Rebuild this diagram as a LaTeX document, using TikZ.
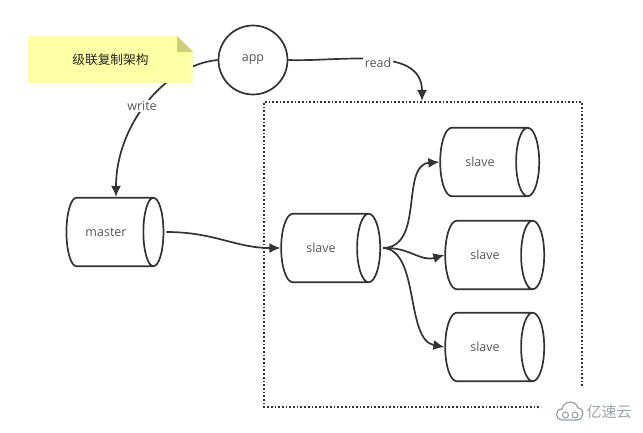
\documentclass[tikz,border=0pt]{standalone}
\usepackage{fontspec}
\setmainfont{Open Sans}
\newfontfamily\cjk{Noto Sans CJK SC}
\usetikzlibrary{arrows.meta,shapes.geometric}
\definecolor{linegray}{HTML}{333333}
\definecolor{textgray}{HTML}{555555}
\definecolor{markgray}{HTML}{9AA3AD}
\definecolor{noteyellow}{HTML}{FFFFA6}
\definecolor{notefold}{HTML}{CFCF78}
\newcommand{\dblabel}[1]{#1\hspace*{7pt}}
\tikzset{
    dbnode/.style={cylinder, draw=linegray, line width=1.7pt, aspect=2.4, minimum width=68.5pt, minimum height=99pt, text=textgray, font=\fontsize{12.5pt}{14pt}\selectfont, inner sep=0pt},
    appnode/.style={circle, draw=linegray, line width=1.7pt, minimum size=69pt, text=textgray, font=\fontsize{12.5pt}{14pt}\selectfont, inner sep=0pt},
    link/.style={draw=linegray, line width=1.7pt, -{Latex[length=11pt,width=10pt]}},
    linklabel/.style={fill=white, text=textgray, font=\fontsize{12.5pt}{14pt}\selectfont, inner sep=1.5pt}
}
\begin{document}
\begin{tikzpicture}[x=1pt,y=-1pt]
    \useasboundingbox (0,0) rectangle (643,433);
    \coordinate (boxa) at (582,386);
    \coordinate (boxb) at (582,102);
    \coordinate (boxc) at (264,102);
    \coordinate (boxd) at (264,407);
    \coordinate (boxe) at (541,407);
    \coordinate (readend) at (422,101);
    \draw[linegray, line width=1.7pt, dotted] (boxa) -- (boxb) -- (boxc) -- (boxd) -- (boxe);
    \node[appnode] (app) at (253,60) {app};
    \node[dbnode, minimum height=97pt] (master) at (109.5,232) {\dblabel{master}};
    \node[dbnode] (mid) at (324.5,248) {\dblabel{slave}};
    \node[dbnode] (top) at (483.5,162) {\dblabel{slave}};
    \node[dbnode] (cen) at (488.5,255) {\dblabel{slave}};
    \node[dbnode] (low) at (488.5,347) {\dblabel{slave}};
    \draw[link] (app.west) .. controls (165,65) and (116,125) .. ([xshift=6.5pt]master.north);
    \draw[link] (app.east) .. controls (340,62) and (422,45) .. (readend);
    \draw[link] (master.east) ++(2,0) .. controls (215,232) and (235,248) .. (mid.west);
    \draw[link] (mid.east) ++(2,0) .. controls (425,247) and (400,165) .. (top.west);
    \draw[link] (mid.east) ++(2,0) .. controls (410,247) and (420,262) .. (cen.west);
    \draw[link] (mid.east) ++(2,0) .. controls (420,250) and (405,340) .. (low.west);
    \node[linklabel] (write) at (142,106) {write};
    \node[linklabel] (read) at (378,63) {read};
    % note on top of the write line
    \node[fill=noteyellow, minimum width=165pt, minimum height=47pt, inner sep=0pt, font=\cjk\fontsize{12.7pt}{14pt}\selectfont, text=black!85] (note) at (110.5,59.5) {级联复制架构};
    \fill[white] (177,36) -- (193.5,36) -- (193.5,52) -- cycle;
    \fill[notefold] (177,36) -- (193,52) -- (177,52) -- cycle;
    % watermark
    \node[font=\cjk\fontsize{15pt}{17pt}\selectfont, text=markgray, inner sep=0pt] (mark) at (609,412) {亿速云};
    \draw[markgray, line width=1.3pt, line cap=round] (563,420) .. controls (554,420) and (555,409) .. (562,409) .. controls (564,400) and (576,400) .. (578,408) .. controls (585,408) and (584,420) .. (577,420) -- cycle;
    \draw[markgray, line width=1.1pt] (565.5,415) circle (3pt) (575,415) circle (3pt);
\end{tikzpicture}
\end{document}
